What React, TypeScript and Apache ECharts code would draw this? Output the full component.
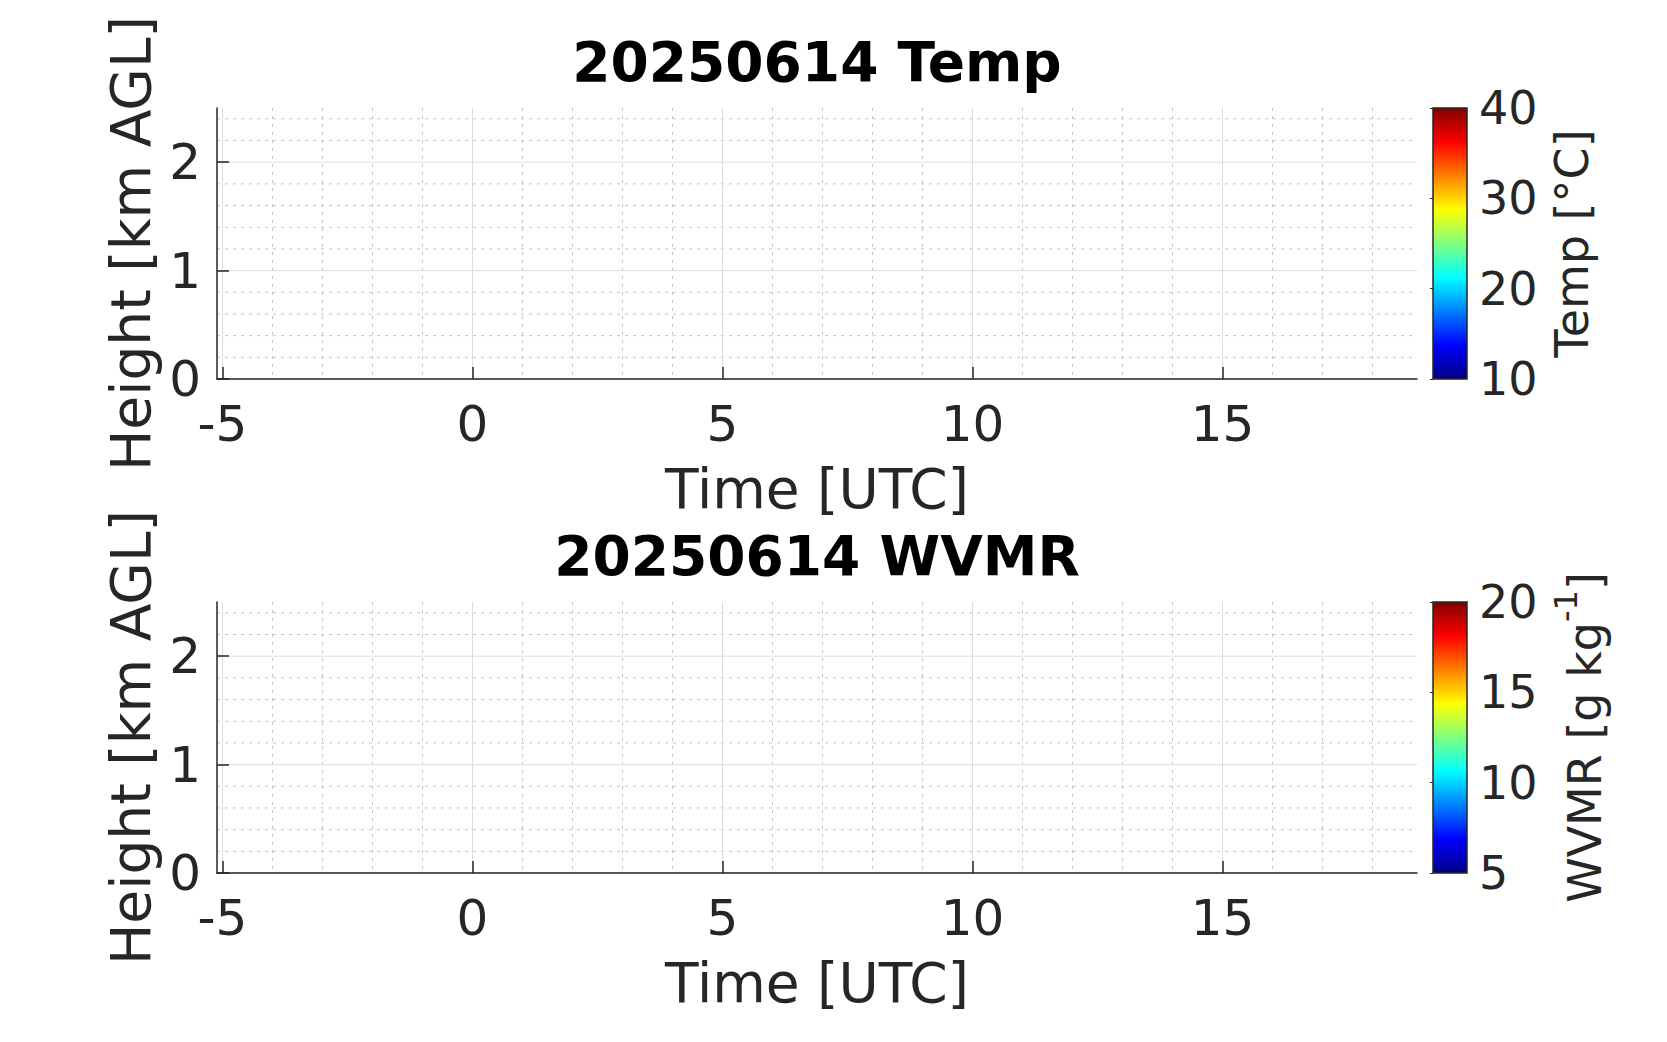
import React, { useEffect, useRef } from 'react';
import * as echarts from 'echarts';

// ---- data / axis definitions ----
const DATE_LABEL = '20250614';
const PANEL_NAMES = ['Temp', 'WVMR'];
const X_MIN = -5.11;
const X_MAX = 18.89;
const Y_MIN = 0;
const Y_MAX = 2.5;
const X_TICKS = [-5, 0, 5, 10, 15];
const X_MINOR = [-4, -3, -2, -1, 1, 2, 3, 4, 6, 7, 8, 9, 11, 12, 13, 14, 16, 17, 18];
const Y_TICKS = [0, 1, 2];
const Y_MINOR = [0.2, 0.4, 0.6, 0.8, 1.2, 1.4, 1.6, 1.8, 2.2, 2.4];
const CB_MIN = [10, 5];
const CB_MAX = [40, 20];
const CB_STEP = [10, 5];
const CB_NAMES = ['Temp [°C]', '{a|WVMR [g kg}{b|-1}{a|]}'];
const X_NAME = 'Time [UTC]';
const Y_NAME = 'Height [km AGL]';
// series values (no valid retrievals on this day)
const TEMP_VALUES: number[][] = [];
const WVMR_VALUES: number[][] = [];
const JET_STOPS = [
  { offset: 0, color: '#000084' },
  { offset: 0.125, color: '#0000ff' },
  { offset: 0.375, color: '#00ffff' },
  { offset: 0.625, color: '#ffff00' },
  { offset: 0.875, color: '#ff0000' },
  { offset: 1, color: '#800000' },
];

// ---- layout ----
const FONT = 'DejaVu Sans';
const INK = '#262626';
const G_LEFT = 217;
const G_WIDTH = 1200;
const G_HEIGHT = 271;
const G_TOPS = [108, 602];
const CB_LEFT = 1433;
const CB_WIDTH = 34;
const TITLE_TOPS = [34, 528];

function buildOption() {
  const grid: any[] = [];
  const xAxis: any[] = [];
  const yAxis: any[] = [];
  const series: any[] = [];
  const title: any[] = [];

  const gridLineData = [
    ...X_MINOR.map((v) => [v, 0, 1]),
    ...Y_MINOR.map((v) => [v, 1, 1]),
    ...X_TICKS.map((v) => [v, 0, 0]),
    ...Y_TICKS.map((v) => [v, 1, 0]),
  ];

  PANEL_NAMES.forEach((name, i) => {
    const top = G_TOPS[i];
    title.push({
      text: DATE_LABEL + ' ' + name,
      left: G_LEFT + G_WIDTH / 2,
      top: TITLE_TOPS[i],
      textAlign: 'center',
      textVerticalAlign: 'top',
      padding: 0,
      textStyle: { fontFamily: FONT, fontSize: 55, fontWeight: 'bold', color: '#000' },
    });
    grid.push({ left: G_LEFT, top, width: G_WIDTH, height: G_HEIGHT, containLabel: false });
    grid.push({ left: CB_LEFT, top, width: CB_WIDTH, height: G_HEIGHT, containLabel: false });

    xAxis.push({
      type: 'value',
      gridIndex: i * 2,
      min: X_MIN,
      max: X_MAX,
      z: 5,
      name: X_NAME,
      nameLocation: 'middle',
      nameGap: 82,
      nameTextStyle: { fontFamily: FONT, fontSize: 55, color: INK },
      axisLine: { show: true, onZero: false, lineStyle: { color: INK, width: 1.5 } },
      axisTick: { show: true, inside: true, length: 12, customValues: X_TICKS, lineStyle: { color: INK, width: 1.5 } },
      axisLabel: { show: true, customValues: X_TICKS, margin: 20, fontFamily: FONT, fontSize: 50, color: INK },
      splitLine: { show: false },
    });
    yAxis.push({
      type: 'value',
      gridIndex: i * 2,
      min: Y_MIN,
      max: Y_MAX,
      z: 5,
      name: Y_NAME,
      nameLocation: 'middle',
      nameRotate: 90,
      nameGap: 53,
      nameTextStyle: { fontFamily: FONT, fontSize: 55, color: INK },
      axisLine: { show: true, onZero: false, lineStyle: { color: INK, width: 1.5 } },
      axisTick: { show: true, inside: true, length: 12, customValues: Y_TICKS, lineStyle: { color: INK, width: 1.5 } },
      axisLabel: { show: true, customValues: Y_TICKS, margin: 16, fontFamily: FONT, fontSize: 50, color: INK },
      splitLine: { show: false },
    });

    // colorbar axes
    xAxis.push({ type: 'value', gridIndex: i * 2 + 1, min: 0, max: 1, show: false });
    yAxis.push({
      type: 'value',
      gridIndex: i * 2 + 1,
      position: 'right',
      min: CB_MIN[i],
      max: CB_MAX[i],
      interval: CB_STEP[i],
      z: 5,
      name: CB_NAMES[i],
      nameLocation: 'middle',
      nameRotate: 90,
      nameGap: i === 0 ? 82 : 83,
      nameTextStyle: {
        fontFamily: FONT,
        fontSize: 46,
        color: INK,
        rich: {
          a: { fontFamily: FONT, fontSize: 46, lineHeight: 70, verticalAlign: 'middle', color: INK },
          b: { fontFamily: FONT, fontSize: 32, lineHeight: 32, verticalAlign: 'top', color: INK },
        },
      },
      axisLine: { show: false },
      axisTick: { show: true, inside: true, length: 3, lineStyle: { color: INK, width: 1 } },
      axisLabel: { show: true, margin: 12, fontFamily: FONT, fontSize: 46, color: INK },
      splitLine: { show: false },
    });

    // grid lines through the axes' scales
    series.push({
      type: 'custom',
      xAxisIndex: i * 2,
      yAxisIndex: i * 2,
      silent: true,
      z: 1,
      data: gridLineData,
      renderItem: (params: any, api: any) => {
        const v = api.value(0);
        const orient = api.value(1);
        const minor = api.value(2) === 1;
        const cs = params.coordSys;
        let shape;
        if (orient === 0) {
          const x = api.coord([v, Y_MIN])[0];
          shape = { x1: x, y1: cs.y, x2: x, y2: cs.y + cs.height };
        } else {
          const y = api.coord([X_MIN, v])[1];
          shape = { x1: cs.x, y1: y, x2: cs.x + cs.width, y2: y };
        }
        return {
          type: 'line',
          shape,
          style: minor
            ? { stroke: '#c4c4c4', lineWidth: 1, lineDash: [3, 5] }
            : { stroke: '#dcdcdc', lineWidth: 1 },
        };
      },
    });

    // (empty) retrieval data
    series.push({
      type: 'scatter',
      xAxisIndex: i * 2,
      yAxisIndex: i * 2,
      data: i === 0 ? TEMP_VALUES : WVMR_VALUES,
      symbolSize: 4,
    });

    // colorbar
    series.push({
      type: 'custom',
      xAxisIndex: i * 2 + 1,
      yAxisIndex: i * 2 + 1,
      silent: true,
      z: 2,
      data: [[0, CB_MIN[i], CB_MAX[i]]],
      encode: { x: 0, y: [1, 2] },
      renderItem: (params: any, api: any) => {
        const p0 = api.coord([0, api.value(2)]);
        const p1 = api.coord([1, api.value(1)]);
        return {
          type: 'rect',
          shape: { x: p0[0], y: p0[1], width: p1[0] - p0[0], height: p1[1] - p0[1] },
          style: {
            fill: { type: 'linear', x: 0, y: 1, x2: 0, y2: 0, colorStops: JET_STOPS },
            stroke: INK,
            lineWidth: 1.5,
          },
        };
      },
    });
  });

  return {
    animation: false,
    backgroundColor: '#ffffff',
    textStyle: { fontFamily: FONT },
    title,
    grid,
    xAxis,
    yAxis,
    series,
  };
}

export default function App() {
  const ref = useRef<HTMLDivElement>(null);
  useEffect(() => {
    if (!ref.current) return;
    const chart = echarts.init(ref.current, null, { renderer: 'svg' });
    chart.setOption(buildOption() as any);
    return () => chart.dispose();
  }, []);
  return (
    <div
      ref={ref}
      style={{ position: 'fixed', left: 0, top: 0, width: 1667, height: 1042, background: '#ffffff' }}
    />
  );
}
